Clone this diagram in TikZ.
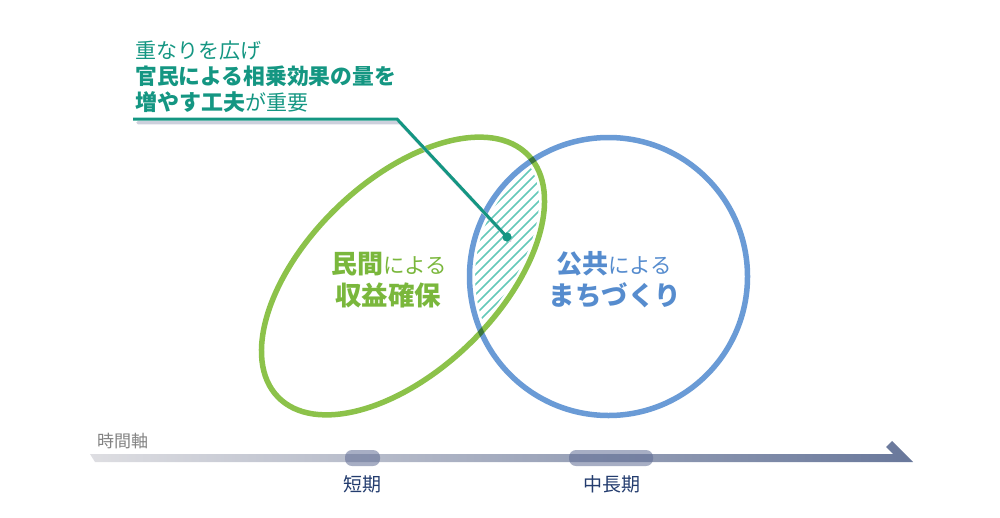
\documentclass[tikz,border=0pt]{standalone}
\usepackage{fontspec}
\setmainfont{Noto Sans CJK JP}
\definecolor{greenl}{RGB}{140,194,74}
\definecolor{greent}{RGB}{122,183,60}
\definecolor{bluel}{RGB}{106,155,214}
\definecolor{bluet}{RGB}{86,140,206}
\definecolor{tealc}{RGB}{20,150,130}
\definecolor{hatchc}{RGB}{100,200,185}
\definecolor{shadowc}{RGB}{205,208,220}
\definecolor{tlleft}{RGB}{222,222,226}
\definecolor{tlright}{RGB}{105,120,155}
\definecolor{markc}{RGB}{95,108,148}
\definecolor{navyc}{RGB}{35,60,110}
\definecolor{grayt}{RGB}{130,130,130}
\tikzset{
  ringline/.style={line width=5.5pt},
  hatchline/.style={hatchc, line width=1.6pt},
  markbox/.style={fill=markc, fill opacity=0.55, rounded corners=7pt, minimum height=16pt, inner sep=0pt},
  tllabel/.style={anchor=base, text=navyc, font=\fontsize{19}{19}\selectfont},
  calltext/.style={anchor=base west, text=tealc, font=\fontsize{21}{21}\selectfont},
}
\begin{document}
\begin{tikzpicture}[x=1pt,y=-1pt]
\useasboundingbox (0,0) rectangle (1000,517);
\coordinate (ec) at (403,276);
\coordinate (cc) at (608.5,276.5);
% hatched overlap
\begin{scope}
  \clip[rotate around={44:(ec)}] (ec) ellipse [x radius=174, y radius=95];
  \clip (cc) circle [radius=139];
  \foreach \s in {600,610,...,990} {
    \draw[hatchline] ({430},{\s-430}) -- ({600},{\s-600});
  }
\end{scope}
% white gaps
\draw[white, line width=11pt] (cc) circle [radius=139];
\draw[white, line width=11pt, rotate around={44:(ec)}] (ec) ellipse [x radius=174, y radius=95];
% outlines
\draw[ringline, bluel] (cc) circle [radius=139];
\begin{scope}[blend mode=multiply]
\draw[ringline, greenl, rotate around={44:(ec)}] (ec) ellipse [x radius=174, y radius=95];
\end{scope}
% labels in shapes
\node[anchor=base, text=greent, inner sep=0pt] (min1) at (389,273.5)
  {\fontsize{26}{26}\selectfont\bfseries 民間\fontsize{21.5}{21.5}\selectfont\mdseries による};
\node[anchor=base, text=greent, inner sep=0pt] (min2) at (388,305)
  {\fontsize{26.5}{26.5}\selectfont\bfseries 収益確保};
\node[anchor=base, text=bluet, inner sep=0pt] (pub1) at (614,273.5)
  {\fontsize{26}{26}\selectfont\bfseries 公共\fontsize{21.5}{21.5}\selectfont\mdseries による};
\node[anchor=base, text=bluet, inner sep=0pt] (pub2) at (615,305)
  {\fontsize{26.5}{26.5}\selectfont\bfseries まちづくり};
% callout
\node[calltext, inner sep=0pt] (c1) at (135,58.5) {重なりを広げ};
\node[calltext, inner sep=0pt, font=\fontsize{21.8}{21.8}\selectfont] (c2) at (135,84.5) {\bfseries 官民による相乗効果の量を};
\node[calltext, inner sep=0pt] (c3) at (135,110) {{\fontsize{22}{22}\selectfont\bfseries 増やす工夫}が重要};
\coordinate (ustart) at (133,119);
\coordinate (bend) at (397,119);
\node[circle, fill=tealc, inner sep=0pt, minimum size=9pt] (dot) at (507,237) {};
\draw[shadowc, line width=3.5pt, line cap=round, line join=round]
  ([shift={(5,3.5)}]ustart) -- ([shift={(3,3.5)}]bend) -- ([shift={(3,3.5)}]dot.center);
\draw[tealc, line width=3pt] (ustart) -- (bend) -- (dot.center);
\node[circle, fill=tealc, inner sep=0pt, minimum size=9pt] at (dot) {};
% timeline
\shade[left color=tlleft, right color=tlright]
  (90,454) -- (893,454) -- (886,447) -- (892,441) -- (913,462) -- (95,462) -- cycle;
\node[anchor=base west, text=grayt, inner sep=0pt, font=\fontsize{17}{17}\selectfont] (axis) at (97,447) {時間軸};
\node[markbox, minimum width=35pt] (m1) at (362.5,458) {};
\node[markbox, minimum width=84pt] (m2) at (611,458) {};
\node[tllabel, inner sep=0pt] (l1) at (362,491) {短期};
\node[tllabel, inner sep=0pt] (l2) at (612,491) {中長期};
\end{tikzpicture}
\end{document}
